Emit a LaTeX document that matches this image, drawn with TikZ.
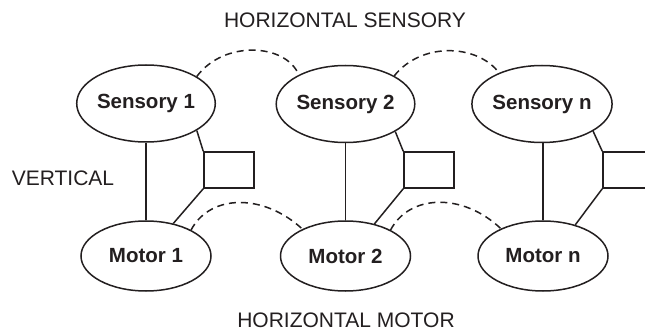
\documentclass[tikz,border=0pt]{standalone}
\usepackage{fontspec}
\setmainfont{Liberation Sans}
\usetikzlibrary{shapes.geometric}
\definecolor{ink}{HTML}{231F20}
\begin{document}
\begin{tikzpicture}[x=1pt,y=-1pt,
  sens/.style={ellipse, draw=ink, line width=1.5pt, minimum width=135pt, minimum height=77pt, inner sep=0pt, font=\fontsize{20.5}{24}\selectfont\bfseries, text=ink},
  mot/.style={ellipse, draw=ink, line width=1.5pt, minimum width=130pt, minimum height=70pt, inner sep=0pt, font=\fontsize{20.5}{24}\selectfont\bfseries, text=ink},
  boxn/.style={rectangle, draw=ink, line width=1.5pt, minimum width=50pt, minimum height=36pt, inner sep=0pt},
  lab/.style={font=\fontsize{21}{25}\selectfont, text=ink, inner sep=0pt},
  conn/.style={line width=1.5pt, draw=ink},
  arc/.style={line width=1.5pt, draw=ink, dash pattern=on 7pt off 5pt}]
\useasboundingbox (0,0) rectangle (645,331);
\clip (0,0) rectangle (645,331);
\fill[white] (0,0) rectangle (645,331);

\node[lab, anchor=base] (th) at (345,28) {HORIZONTAL SENSORY};
\node[lab, anchor=base] (tv) at (63,186) {VERTICAL};
\node[lab, anchor=base] (tm) at (346,327) {HORIZONTAL MOTOR};

\node[sens] (s1) at (146,103.5) {Sensory 1};
\node[sens] (s2) at (345.5,104) {Sensory 2};
\node[sens] (s3) at (542,104) {Sensory n};
\node[mot] (m1) at (146,256) {Motor 1};
\node[mot] (m2) at (345.5,256) {Motor 2};
\node[mot] (m3) at (543,256) {Motor n};

\node[boxn] (b1) at (229,170) {};
\node[boxn] (b2) at (429,170) {};
\node[boxn] (b3) at (628,170) {};

% vertical links
\draw[conn] (s1.south) -- (m1.north);
\draw[conn] (s2.south) -- (m2.north);
\draw[conn] (s3.south -| m3.north) -- (m3.north);

% via boxes
\draw[conn] (s1.-28) -- (b1.north west);
\draw[conn] (b1.south west) -- (m1.50);
\draw[conn] (s2.-29) -- (b2.north west);
\draw[conn] (b2.south west) -- (m2.48);
\draw[conn] (s3.-28) -- (b3.north west);
\draw[conn] (b3.south west) -- (m3.44);

% horizontal sensory arcs
\draw[arc] (s1.28) .. controls +(27,-36.5) and +(-13,-31.5) .. (s2.148);
\draw[arc] (s2.30) .. controls +(27,-34) and +(-22,-29) .. (s3.144);

% horizontal motor arcs
\draw[arc] (m1.30) .. controls +(19,-36) and +(-39,-36) .. (m2.148);
\draw[arc] (m2.30) .. controls +(19,-36) and +(-38,-36) .. (m3.147);
\end{tikzpicture}
\end{document}
